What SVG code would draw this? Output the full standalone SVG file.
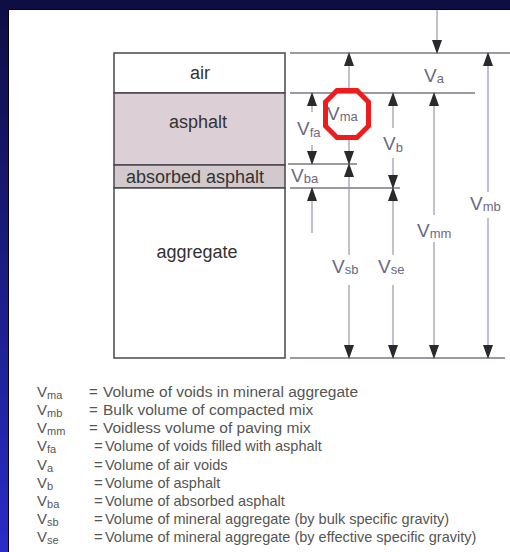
<svg xmlns="http://www.w3.org/2000/svg" width="510" height="552" viewBox="0 0 510 552">
<defs>
<linearGradient id="bg" x1="0" y1="0" x2="0" y2="1">
<stop offset="0" stop-color="#0e0e42"/>
<stop offset="0.3" stop-color="#16166a"/>
<stop offset="1" stop-color="#2b2bc8"/>
</linearGradient>
<marker id="ah" markerUnits="userSpaceOnUse" markerWidth="14" markerHeight="10" viewBox="0 0 14 10" refX="13" refY="5" orient="auto">
<path d="M0,0 L14,5 L0,10 z" fill="#2a2a2a"/>
</marker>
<style>
.box{stroke:#4a4650;stroke-width:1.5}
.lbl{font-family:"Liberation Sans",Arial,sans-serif;font-size:18px;fill:#333;text-anchor:middle}
.v{font-family:"Liberation Sans",Arial,sans-serif;font-size:19px;fill:#6c6884}
.v tspan{font-size:13px}
.h{stroke:#7a7884;stroke-width:1.3}
.d{stroke:#9a94b0;stroke-width:1.2;marker-end:url(#ah)}
.lg{font-family:"Liberation Sans",Arial,sans-serif;font-size:15px;fill:#555}
.lg tspan.s{font-size:11px}
.lg .t1{font-size:15.5px}
.lg .t2{font-size:14.5px}
</style>
</defs>
<rect x="0" y="0" width="510" height="552" fill="url(#bg)"/>
<rect x="8.5" y="9.5" width="503" height="545" fill="#fff" stroke="#000" stroke-width="1"/>

<g id="air"><rect class="box" x="114" y="53" width="171" height="40" fill="#fff"/><text class="lbl" x="200" y="79">air</text></g>
<g id="asphalt"><rect class="box" x="114" y="93" width="171" height="72" fill="#dccfd6"/><text class="lbl" x="198" y="128">asphalt</text></g>
<g id="absorbed"><rect class="box" x="114" y="165" width="171" height="23" fill="#d2c9cc" stroke-width="2"/><text class="lbl" x="195" y="183">absorbed asphalt</text></g>
<g id="aggregate"><rect class="box" x="114" y="188" width="171" height="170" fill="#fff"/><text class="lbl" x="197" y="258">aggregate</text></g>

<g id="connectors">
<line class="h" x1="290" y1="53" x2="510" y2="53"/>
<line class="h" x1="290" y1="93" x2="475" y2="93"/>
<line class="h" x1="288" y1="164" x2="357" y2="164"/>
<line class="h" x1="290" y1="188" x2="400" y2="188"/>
<line class="h" x1="290" y1="358" x2="505" y2="358"/>
<line class="d" x1="437" y1="10" x2="437" y2="53"/>
<line class="d" x1="349" y1="90" x2="349" y2="53"/>
<line class="d" x1="349" y1="138" x2="349" y2="164"/>
<line class="d" x1="349" y1="255" x2="349" y2="164"/>
<line class="d" x1="349" y1="285" x2="349" y2="358"/>
<line class="d" x1="312" y1="112" x2="312" y2="93"/>
<line class="d" x1="312" y1="145" x2="312" y2="164"/>
<line class="d" x1="312" y1="233" x2="312" y2="188"/>
<line class="d" x1="393" y1="128" x2="393" y2="93"/>
<line class="d" x1="393" y1="158" x2="393" y2="188"/>
<line class="d" x1="393" y1="255" x2="393" y2="188"/>
<line class="d" x1="393" y1="285" x2="393" y2="358"/>
<line class="d" x1="434" y1="215" x2="434" y2="93"/>
<line class="d" x1="434" y1="242" x2="434" y2="358"/>
<line class="d" x1="488" y1="192" x2="488" y2="53"/>
<line class="d" x1="488" y1="218" x2="488" y2="358"/>
</g>

<g id="labels">
<text class="v" x="424" y="82">V<tspan dy="1">a</tspan></text>
<text class="v" x="327" y="120">V<tspan dy="1">ma</tspan></text>
<text class="v" x="297" y="135">V<tspan dy="2">fa</tspan></text>
<text class="v" x="383" y="150">V<tspan dy="2">b</tspan></text>
<text class="v" x="291" y="182">V<tspan dy="1">ba</tspan></text>
<text class="v" x="332" y="273">V<tspan dy="1">sb</tspan></text>
<text class="v" x="378" y="273">V<tspan dy="1">se</tspan></text>
<text class="v" x="417" y="237">V<tspan dy="1">mm</tspan></text>
<text class="v" x="470" y="210">V<tspan dy="1">mb</tspan></text>
</g>

<g id="highlight"><polygon points="337,90.5 357,90.5 368.5,102 368.5,126 357,137.5 337,137.5 325.5,126 325.5,102" fill="none" stroke="#ee1c1c" stroke-width="5"/></g>

<g id="legend" class="lg">
<text x="37" y="397">V<tspan class="s" dy="2">ma</tspan></text><text x="89" y="397">=</text><text class="t1" x="103" y="397">Volume of voids in mineral aggregate</text>
<text x="37" y="415">V<tspan class="s" dy="2">mb</tspan></text><text x="89" y="415">=</text><text class="t1" x="103" y="415">Bulk volume of compacted mix</text>
<text x="37" y="433">V<tspan class="s" dy="2">mm</tspan></text><text x="89" y="433">=</text><text class="t1" x="103" y="433">Voidless volume of paving mix</text>
<text x="37" y="451">V<tspan class="s" dy="2">fa</tspan></text><text x="94" y="451">=</text><text class="t2" x="105" y="451">Volume of voids filled with asphalt</text>
<text x="37" y="470">V<tspan class="s" dy="2">a</tspan></text><text x="94" y="470">=</text><text class="t2" x="105" y="470">Volume of air voids</text>
<text x="37" y="488">V<tspan class="s" dy="2">b</tspan></text><text x="94" y="488">=</text><text class="t2" x="105" y="488">Volume of asphalt</text>
<text x="37" y="506">V<tspan class="s" dy="2">ba</tspan></text><text x="94" y="506">=</text><text class="t2" x="105" y="506">Volume of absorbed asphalt</text>
<text x="37" y="524">V<tspan class="s" dy="2">sb</tspan></text><text x="94" y="524">=</text><text class="t2" x="105" y="524">Volume of mineral aggregate (by bulk specific gravity)</text>
<text x="37" y="542">V<tspan class="s" dy="2">se</tspan></text><text x="94" y="542">=</text><text class="t2" x="105" y="542">Volume of mineral aggregate (by effective specific gravity)</text>
</g>
</svg>
